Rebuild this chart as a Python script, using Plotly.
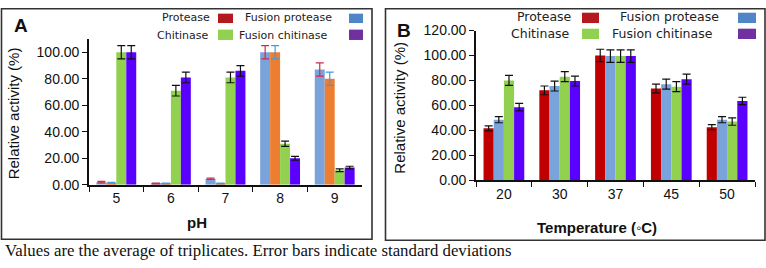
import plotly.graph_objects as go

W, H = 766, 268

# ---------------- data ----------------
series_names = ["Protease", "Fusion protease", "Chitinase", "Fusion chitinase"]

ph_labels = ["5", "6", "7", "8", "9"]
a_protease = [2.0, 1.0, 4.5, 100.0, 87.0]
a_fusion_protease = [1.5, 1.0, 1.0, 100.0, 80.0]
a_chitinase = [100.0, 71.0, 81.0, 31.0, 11.0]
a_fusion_chitinase = [100.0, 81.0, 86.0, 20.0, 13.0]
a_err_protease = [0.5, 0.3, 0.5, 5.0, 5.0]
a_err_fusion_protease = [0.3, 0.3, 0.3, 5.0, 5.0]
a_err_chitinase = [5.0, 4.0, 4.0, 2.0, 1.0]
a_err_fusion_chitinase = [5.0, 4.0, 4.0, 1.5, 1.0]

temp_labels = ["20", "30", "37", "45", "50"]
b_protease = [41.5, 72.0, 100.0, 73.5, 42.5]
b_fusion_protease = [48.5, 75.5, 99.5, 77.0, 48.5]
b_chitinase = [80.0, 83.0, 99.5, 75.0, 47.0]
b_fusion_chitinase = [58.5, 79.5, 99.5, 81.0, 63.5]
b_err_protease = [2.0, 3.5, 5.0, 3.5, 2.0]
b_err_fusion_protease = [2.5, 4.0, 5.0, 4.0, 2.5]
b_err_chitinase = [4.0, 4.0, 5.0, 4.0, 3.0]
b_err_fusion_chitinase = [3.0, 4.0, 5.0, 4.0, 3.0]

caption = "Values are the average of triplicates. Error bars indicate standard deviations"

# ---------------- styles ----------------
A_COLORS = ["#7BA3DB", "#ED7D31", "#92D050", "#5A00FF"]
A_ERR_COLORS = ["#D42A45", "#3E9BDC", "#111111", "#111111"]
B_COLORS = ["#C00000", "#7BA3DB", "#92D050", "#5A00FF"]
B_ERR_COLORS = ["#111111"] * 4
LEG_COLORS = ["#B3191E", "#4E86C8", "#92D050", "#7030A0"]


def px(x):
    return x / W


def py(y):
    return 1 - y / H


fig = go.Figure()

a_vals = [a_protease, a_fusion_protease, a_chitinase, a_fusion_chitinase]
a_errs = [a_err_protease, a_err_fusion_protease, a_err_chitinase, a_err_fusion_chitinase]
b_vals = [b_protease, b_fusion_protease, b_chitinase, b_fusion_chitinase]
b_errs = [b_err_protease, b_err_fusion_protease, b_err_chitinase, b_err_fusion_chitinase]

for i, name in enumerate(series_names):
    fig.add_trace(go.Bar(
        x=ph_labels, y=a_vals[i], name=name, marker_color=A_COLORS[i],
        marker_line_width=0, xaxis="x", yaxis="y", showlegend=False,
        error_y=dict(type="data", array=a_errs[i], visible=True,
                     color=A_ERR_COLORS[i], thickness=1.2, width=4),
    ))
for i, name in enumerate(series_names):
    fig.add_trace(go.Bar(
        x=temp_labels, y=b_vals[i], name=name, marker_color=B_COLORS[i],
        marker_line_width=0, xaxis="x2", yaxis="y2", showlegend=False,
        error_y=dict(type="data", array=b_errs[i], visible=True,
                     color=B_ERR_COLORS[i], thickness=1.2, width=4),
    ))

tick_font = dict(family="Liberation Sans, Arial, sans-serif", size=14, color="#111111")

xcommon = dict(type="category", showline=True, linecolor="#111111", linewidth=1.6,
               ticks="outside", tickson="boundaries", ticklen=5, tickwidth=1.4,
               tickcolor="#111111", showgrid=False, zeroline=False, tickfont=tick_font,
               fixedrange=True)
ycommon = dict(showline=True, linecolor="#111111", linewidth=1.6, ticks="outside",
               ticklen=5, tickwidth=1.4, tickcolor="#111111", showgrid=False,
               zeroline=False, tickformat=".2f", tickfont=tick_font, fixedrange=True)

fig.update_layout(
    width=W, height=H,
    margin=dict(l=0, r=0, t=0, b=0),
    paper_bgcolor="white", plot_bgcolor="white",
    barmode="group", bargap=0.27, bargroupgap=0,
    showlegend=False,
    xaxis=dict(domain=[px(89), px(362)], anchor="y", **xcommon),
    yaxis=dict(domain=[py(188), py(33)], anchor="x", range=[0, 110],
               tickvals=[0, 20, 40, 60, 80, 100], **ycommon),
    xaxis2=dict(domain=[px(476), px(755)], anchor="y2", **xcommon),
    yaxis2=dict(domain=[py(183), py(24)], anchor="x2", range=[0, 120],
                tickvals=[0, 20, 40, 60, 80, 100, 120], **ycommon),
)

shapes = []
annotations = []

# panel borders
shapes.append(dict(type="rect", xref="paper", yref="paper",
                   x0=px(1.5), x1=px(372), y0=py(246), y1=py(0.8),
                   line=dict(color="#333333", width=1.6), fillcolor="rgba(0,0,0,0)"))
shapes.append(dict(type="rect", xref="paper", yref="paper",
                   x0=px(385.5), x1=px(765), y0=py(247), y1=py(0.8),
                   line=dict(color="#333333", width=1.6), fillcolor="rgba(0,0,0,0)"))

# panel letters
annotations.append(dict(text="<b>A</b>", x=px(12), y=py(19), xref="paper", yref="paper",
                        xanchor="left", yanchor="middle", showarrow=False,
                        font=dict(family="Liberation Sans, Arial", size=19, color="#111")))
annotations.append(dict(text="<b>B</b>", x=px(395), y=py(24), xref="paper", yref="paper",
                        xanchor="left", yanchor="middle", showarrow=False,
                        font=dict(family="Liberation Sans, Arial", size=19, color="#111")))

# axis titles
title_font = dict(family="Liberation Sans, Arial, sans-serif", size=15, color="#111111")
annotations.append(dict(text="Relative activity (%)", x=px(13), y=py(112), xref="paper",
                        yref="paper", textangle=-90, showarrow=False,
                        xanchor="center", yanchor="middle", font=title_font))
annotations.append(dict(text="Relative activity (%)", x=px(400), y=py(106), xref="paper",
                        yref="paper", textangle=-90, showarrow=False,
                        xanchor="center", yanchor="middle", font=title_font))
annotations.append(dict(text="<b>pH</b>", x=px(197), y=py(228), xref="paper", yref="paper",
                        showarrow=False, xanchor="center", yanchor="middle", font=title_font))
annotations.append(dict(text="<b>Temperature (◦C)</b>", x=px(597), y=py(233), xref="paper",
                        yref="paper", showarrow=False, xanchor="center", yanchor="middle",
                        font=title_font))

# custom legends (text left of swatch)
def add_legend(items, fsize):
    for name, color, text_right, row_y, sx0, sx1, sy0, sy1 in items:
        annotations.append(dict(text=name, x=px(text_right), y=py(row_y), xref="paper",
                                yref="paper", showarrow=False, xanchor="right",
                                yanchor="middle",
                                font=dict(family="DejaVu Sans, Verdana", size=fsize,
                                          color="#222222")))
        shapes.append(dict(type="rect", xref="paper", yref="paper",
                           x0=px(sx0), x1=px(sx1), y0=py(sy1), y1=py(sy0),
                           line=dict(width=0), fillcolor=color))

add_legend([
    (series_names[0], LEG_COLORS[0], 212, 10.5, 218, 233, 6, 16),
    (series_names[1], LEG_COLORS[1], 334, 10.5, 349, 363, 6, 16),
    (series_names[2], LEG_COLORS[2], 211, 29.5, 218, 233, 23, 34),
    (series_names[3], LEG_COLORS[3], 330, 29.5, 349, 363, 23, 34),
], 11)
add_legend([
    (series_names[0], LEG_COLORS[0], 574, 9.5, 582, 599, 5, 16),
    (series_names[1], LEG_COLORS[1], 721, 9.5, 738, 756, 5, 16),
    (series_names[2], LEG_COLORS[2], 572, 27.5, 582, 599, 22, 33),
    (series_names[3], LEG_COLORS[3], 715, 27.5, 738, 756, 22, 33),
], 12.5)

# caption
annotations.append(dict(text=caption, x=px(3), y=py(257.5), xref="paper", yref="paper",
                        showarrow=False, xanchor="left", yanchor="middle",
                        font=dict(family="Liberation Serif, DejaVu Serif, serif", size=16.8,
                                  color="#111111")))

fig.update_layout(shapes=shapes, annotations=annotations)

fig.write_html(
    "out.html",
    config={"displayModeBar": False},
    post_script="document.body.style.margin='0';document.body.style.padding='0';"
                "document.body.style.overflow='hidden';",
)
